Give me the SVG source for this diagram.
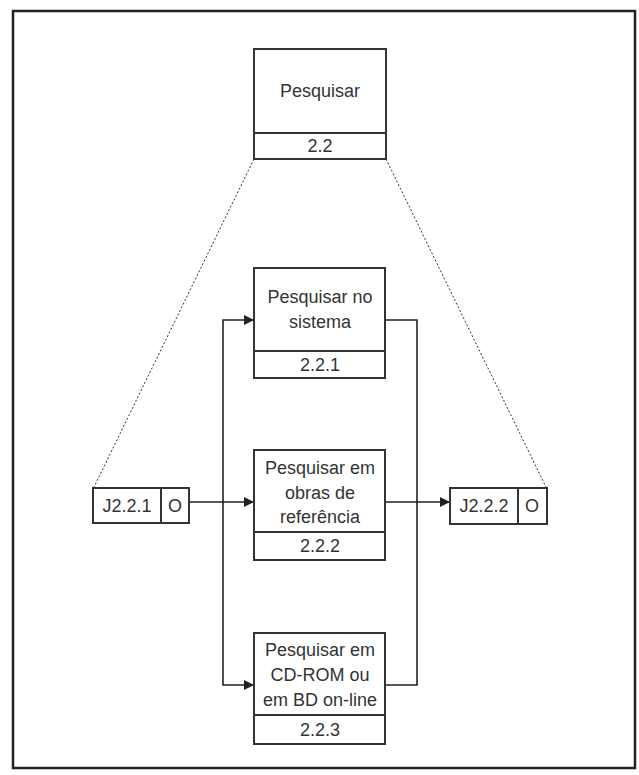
<svg xmlns="http://www.w3.org/2000/svg" width="639" height="775" viewBox="0 0 639 775">
<defs>
<style>
.box{fill:#fff;stroke:#333;stroke-width:2}
.t{font-family:"Liberation Sans",Arial,sans-serif;font-size:18px;fill:#333;text-anchor:middle;dominant-baseline:central}
.c{fill:none;stroke:#222;stroke-width:1.6}
.d{fill:none;stroke:#333;stroke-width:1;stroke-dasharray:2,2}
</style>
<marker id="ah" viewBox="0 0 10 10" refX="10" refY="5" markerWidth="10" markerHeight="10" markerUnits="userSpaceOnUse" orient="auto">
<path d="M0,0 L10,5 L0,10 z" fill="#222"/>
</marker>
</defs>
<rect x="0" y="0" width="639" height="775" fill="#fff"/>
<rect x="13" y="11" width="622" height="757" fill="#fff" stroke="#222" stroke-width="2.5"/>
<g id="connectors">
<path class="d" d="M254,159 L94,487"/>
<path class="d" d="M386,159 L546,487"/>
<path class="c" d="M189,502 L254,502" marker-end="url(#ah)"/>
<path class="c" d="M223,502 L223,320 L254,320" marker-end="url(#ah)"/>
<path class="c" d="M223,502 L223,685 L254,685" marker-end="url(#ah)"/>
<path class="c" d="M385,320 L417,320 L417,685 L385,685"/>
<path class="c" d="M385,502 L450,502" marker-end="url(#ah)"/>
</g>
<g id="n22">
<rect class="box" x="254" y="49" width="132" height="110"/>
<line class="box" x1="254" y1="133" x2="386" y2="133"/>
<text class="t" x="320" y="91">Pesquisar</text>
<text class="t" x="320" y="146">2.2</text>
</g>
<g id="n221">
<rect class="box" x="254" y="268" width="131" height="110"/>
<line class="box" x1="254" y1="351" x2="385" y2="351"/>
<text class="t" x="320" y="297">Pesquisar no</text>
<text class="t" x="320" y="322">sistema</text>
<text class="t" x="320" y="365">2.2.1</text>
</g>
<g id="n222">
<rect class="box" x="254" y="450" width="131" height="110"/>
<line class="box" x1="254" y1="532" x2="385" y2="532"/>
<text class="t" x="320" y="468">Pesquisar em</text>
<text class="t" x="320" y="493">obras de</text>
<text class="t" x="320" y="517">referência</text>
<text class="t" x="320" y="546">2.2.2</text>
</g>
<g id="n223">
<rect class="box" x="254" y="633" width="131" height="111"/>
<line class="box" x1="254" y1="715" x2="385" y2="715"/>
<text class="t" x="320" y="650">Pesquisar em</text>
<text class="t" x="320" y="675">CD-ROM ou</text>
<text class="t" x="320" y="700">em BD on-line</text>
<text class="t" x="320" y="730">2.2.3</text>
</g>
<g id="j221">
<rect class="box" x="93" y="488" width="96" height="35"/>
<line class="box" x1="161" y1="488" x2="161" y2="523"/>
<text class="t" x="127" y="506">J2.2.1</text>
<text class="t" x="175" y="506">O</text>
</g>
<g id="j222">
<rect class="box" x="450" y="488" width="97" height="36"/>
<line class="box" x1="518" y1="488" x2="518" y2="524"/>
<text class="t" x="484" y="506">J2.2.2</text>
<text class="t" x="532" y="506">O</text>
</g>
</svg>
